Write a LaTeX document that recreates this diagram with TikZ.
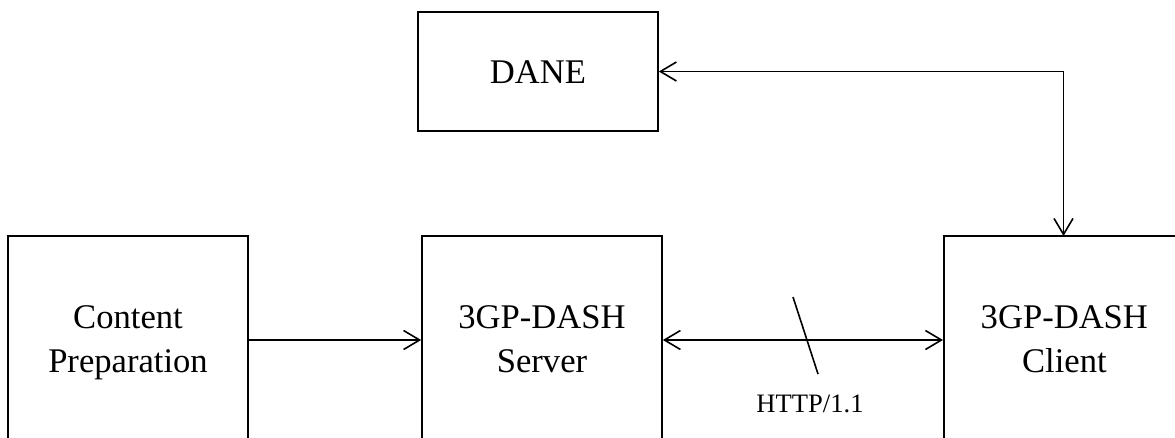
\documentclass[tikz,border=0pt]{standalone}
\usepackage{fontspec}
\setmainfont{Liberation Serif}
\usetikzlibrary{arrows.meta,calc}
\begin{document}
\begin{tikzpicture}[x=1pt,y=-1pt,
  box/.style={draw, line width=1.7pt, rectangle, inner sep=0pt, align=center,
    font=\fontsize{34.6}{44}\selectfont, text depth=0pt},
  conn/.style={line width=1.6pt, arrows={-Straight Barb[length=16pt,width=19pt,line width=1.6pt]}},
  biconn/.style={line width=1.6pt, arrows={Straight Barb[length=16pt,width=19pt,line width=1.6pt]-Straight Barb[length=16pt,width=19pt,line width=1.6pt]}},
  lbl/.style={font=\fontsize{26.6}{32}\selectfont, inner sep=0pt, anchor=base}]
\useasboundingbox (0,0) rectangle (1175,437);
\clip (0,0) rectangle (1175,437);
\node[box, minimum width=240pt, minimum height=119pt, text height=24pt] (dane) at (538,71.5) {DANE};
\node[box, minimum width=240.5pt, minimum height=208pt, text height=64pt] (prep) at (128,340) {Content\\Preparation};
\node[box, minimum width=240pt, minimum height=208pt, text height=64pt] (server) at (542,340) {3GP-DASH\\Server};
\node[box, minimum width=300pt, minimum height=208pt, text height=64pt, anchor=west] (client) at (943,340)
  {\makebox[241pt]{3GP-DASH}\hspace*{59pt}\\\makebox[241pt]{Client}\hspace*{59pt}};
\coordinate (cin) at (1063.5,236);
\draw[conn] (prep) -- (server);
\draw[biconn] (server) -- (client);
\draw[biconn] (dane.east) -| (cin);
\draw[line width=1.6pt] (793,297) -- (818,374);
\node[lbl] (http) at (810,412) {HTTP/1.1};
\end{tikzpicture}
\end{document}
